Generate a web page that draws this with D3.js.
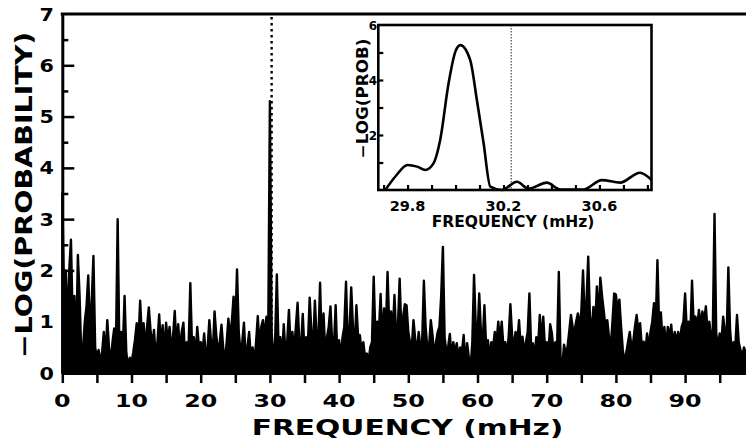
<!DOCTYPE html>
<html>
<head>
<meta charset="utf-8">
<script src="https://cdn.jsdelivr.net/npm/d3@7"></script>
<style>
  html, body { margin: 0; padding: 0; background: #fff; }
  svg { display: block; }
  text { font-family: "DejaVu Sans", sans-serif; font-weight: bold; fill: #000; }
</style>
</head>
<body>
<svg id="chart" width="746" height="443"></svg>
<script>
// Periodogram: -log(probability) sampled every 0.25 mHz, starting at 0 mHz
const freqStep = 0.25;
const logProb = [
  3.5, 1.5, 2.0, 0.9,   2.0, 2.6, 1.0, 1.5,
  0.4, 2.3, 1.5, 0.3,   0.5, 1.0, 1.3, 1.9,
  0.8, 1.4, 2.28, 0.5,  0.3, 0.45, 0.2, 0.4,
  0.8, 0.3, 1.03, 0.5,  0.2, 0.6, 0.87, 0.5,
  3.0, 0.4, 0.8, 0.5,   1.5, 0.4, 0.1, 0.3,
  0.2, 0.4, 0.64, 0.97, 0.6, 1.41, 0.7, 0.97,
  0.5, 0.9, 1.28, 0.84, 0.5, 0.84, 0.3, 0.6,
  1.14, 0.5, 0.93, 0.4, 0.98, 0.6, 0.9, 0.5,
  0.7, 1.21, 0.5, 0.95, 0.4, 0.8, 0.98, 0.3,
  0.6, 0.5, 1.75, 0.5,  0.7, 0.3, 0.9, 0.5,
  0.6, 0.4, 0.77, 0.3,  0.5, 1.03, 0.6, 0.4,
  1.2, 0.74, 0.4, 0.6,  0.94, 0.5, 0.2, 0.6,
  1.06, 0.7, 1.0, 1.49, 0.9, 2.02, 0.8, 0.4,
  0.6, 0.98, 0.3, 0.5,  0.8, 0.3, 0.5, 0.2,
  0.6, 1.11, 0.5, 0.9,  1.03, 0.7, 1.1, 0.6,
  5.3, 0.8, 0.3, 0.6,   1.92, 0.5, 0.7, 0.3,
  0.95, 0.4, 0.6, 1.23, 0.5, 0.8, 0.4, 0.9,
  1.37, 0.6, 0.5, 1.15, 0.4, 0.7, 0.6, 1.47,
  0.8, 0.5, 1.41, 0.7,  0.6, 1.76, 0.5, 1.16,
  0.4, 0.7, 0.9, 1.3,   0.6, 0.5, 1.32, 0.3,
  0.64, 0.3, 0.7, 0.9,  1.78, 0.6, 0.8, 1.67,
  0.9, 0.5, 1.32, 0.7,  0.74, 0.4, 0.6, 0.3,
  0.38, 0.2, 0.5, 0.6,  1.88, 0.7, 1.0, 0.8,
  1.54, 0.6, 1.26, 0.8, 1.97, 0.9, 1.2, 0.8,
  1.52, 0.7, 0.9, 1.84, 0.8, 1.1, 1.34, 1.32,
  0.8, 0.6, 0.5, 1.03,  0.66, 0.4, 0.8, 0.5,
  0.6, 1.8, 0.9, 0.5,   0.5, 1.03, 0.74, 0.3,
  0.6, 0.8, 0.9, 1.5,   2.46, 0.7, 0.4, 0.5,
  0.76, 0.3, 0.6, 0.4,  0.58, 0.3, 0.5, 0.4,
  0.74, 0.2, 0.58, 0.3, 0.1, 0.6, 1.91, 0.9,
  0.7, 1.55, 0.8, 0.6,  1.32, 0.5, 0.64, 0.3,
  0.6, 0.5, 0.8, 0.6,   1.0, 0.6, 1.0, 0.5,
  0.6, 0.4, 0.7, 1.34,  0.74, 0.5, 0.8, 0.6,
  1.03, 0.5, 0.71, 0.4, 0.6, 0.8, 1.55, 0.5,
  0.58, 0.3, 0.7, 0.5,  1.13, 0.6, 1.1, 0.5,
  0.6, 0.4, 0.95, 0.77, 0.4, 0.6, 0.5, 1.97,
  0.3, 0.1, 0.55, 0.4,  0.5, 0.8, 1.13, 0.9,
  0.8, 1.0, 1.16, 0.9,  1.2, 2.0, 1.0, 1.4,
  2.27, 1.1, 0.8, 1.29, 0.9, 1.69, 1.0, 1.86,
  1.5, 1.2, 0.9, 1.03,  0.7, 0.5, 1.0, 1.55,
  1.53, 1.2, 1.43, 0.9, 0.45, 0.2, 0.4, 0.6,
  0.8, 0.5, 0.6, 0.9,   1.13, 0.8, 0.97, 0.5,
  0.61, 0.4, 0.77, 0.5, 0.8, 1.0, 1.36, 0.9,
  2.2, 0.9, 1.18, 0.6,  0.9, 0.5, 0.9, 0.7,
  0.94, 0.5, 0.8, 0.6,  0.8, 0.6, 0.9, 1.0,
  1.55, 0.8, 1.0, 0.7,  1.8, 0.9, 1.1, 0.9,
  1.23, 0.9, 1.2, 1.0,  1.3, 0.8, 1.0, 0.7,
  0.8, 3.1, 0.77, 0.5,  0.77, 0.6, 1.1, 0.8,
  0.7, 2.06, 0.84, 0.4, 0.6, 0.5, 1.13, 0.6,
  0.45, 0.3, 0.5, 0.4
];

// Frequency of the detected signal (dotted marker)
const markerFreq = 30.25;

// Zoomed view around the detected peak
const insetFreq = [29.707, 29.75, 29.80, 29.84, 29.874, 29.908, 29.936, 29.971, 30.0, 30.02,
                   30.061, 30.089, 30.117, 30.145, 30.193, 30.256, 30.304, 30.381, 30.436,
                   30.533, 30.61, 30.686, 30.769, 30.818];
const insetLogP = [0.0, 0.5, 0.91, 0.85, 0.73, 0.97, 1.82, 3.88, 5.05, 5.27,
                   4.73, 3.27, 1.7, 0.12, 0.0, 0.3, 0.05, 0.27, 0.02,
                   0.02, 0.36, 0.27, 0.63, 0.36];
const insetMarkerFreq = 30.232;

// Axis ticks and labels
const xTicks = d3.range(0, 99, 5);
const xTickLabels = [0, 10, 20, 30, 40, 50, 60, 70, 80, 90];
const yMajorTicks = [1, 2, 3, 4, 5, 6];
const yMinorTicks = [0.5, 1.5, 2.5, 3.5, 4.5, 5.5, 6.5];
const yTickLabels = [0, 1, 2, 3, 4, 5, 6, 7];
const insetXTicks = [29.7, 29.8, 29.9, 30.0, 30.1, 30.2, 30.3, 30.4, 30.5, 30.6, 30.7, 30.8];
const insetXTickLabels = ["29.8", "30.2", "30.6"];
const insetYTicks = [1, 2, 3, 4, 5];
const insetYTickLabels = [2, 4, 6];

const svg = d3.select("#chart");

// ---------- main panel ----------
const x = d3.scaleLinear().domain([0, 98.8]).range([62.3, 746]);
const y = d3.scaleLinear().domain([0, 7]).range([373, 14]);

const spectrum = logProb.map((v, i) => [i * freqStep, v]);

// dotted marker at the signal frequency
svg.append("line")
  .attr("x1", x(markerFreq)).attr("x2", x(markerFreq))
  .attr("y1", y(7) + 3).attr("y2", y(0))
  .attr("stroke", "#000").attr("stroke-width", 2.4)
  .attr("stroke-dasharray", "2.6 3.4");

// densely sampled spectrum drawn as a solid black mass with spiky top
svg.append("path")
  .datum(spectrum)
  .attr("fill", "#000")
  .attr("stroke", "#000")
  .attr("stroke-width", 2.4)
  .attr("stroke-linejoin", "round")
  .attr("d", d3.area().x(d => x(d[0])).y0(y(0)).y1(d => y(d[1])));

// bottom axis: ticks every 5 mHz pointing outward
const xAxis = svg.append("g")
  .attr("transform", `translate(0,${y(0)})`)
  .call(d3.axisBottom(x).tickValues(xTicks).tickSize(10).tickSizeOuter(0).tickFormat(""));
xAxis.select(".domain").attr("stroke-width", 3);
xAxis.selectAll(".tick line").attr("stroke-width", 2.5);

// left axis: inward ticks, long at integers, short at halves
const yAxis = svg.append("g")
  .attr("transform", `translate(${x(0)},0)`)
  .call(d3.axisLeft(y).tickValues(yMajorTicks).tickSize(-12).tickSizeOuter(0).tickFormat(""));
yAxis.select(".domain").attr("stroke-width", 3);
yAxis.selectAll(".tick line").attr("stroke-width", 2.5);
const yMinor = svg.append("g")
  .attr("transform", `translate(${x(0)},0)`)
  .call(d3.axisLeft(y).tickValues(yMinorTicks).tickSize(-6).tickSizeOuter(0).tickFormat(""));
yMinor.select(".domain").remove();
yMinor.selectAll(".tick line").attr("stroke-width", 2.5);

// top frame line
svg.append("line")
  .attr("x1", x(0) - 1.5).attr("x2", x.range()[1])
  .attr("y1", y(7)).attr("y2", y(7))
  .attr("stroke", "#000").attr("stroke-width", 3);

// tick labels
svg.append("g").selectAll("g")
  .data(xTickLabels).join("g")
  .attr("transform", d => `translate(${x(d)},407)`)
  .append("text")
  .attr("text-anchor", "middle")
  .attr("font-size", 18)
  .attr("transform", "scale(1.32,1)")
  .text(d => d);

svg.append("g").selectAll("g")
  .data(yTickLabels).join("g")
  .attr("transform", d => `translate(54,${y(d) + 6.5})`)
  .append("text")
  .attr("text-anchor", "end")
  .attr("font-size", 18)
  .attr("transform", "scale(1.15,1)")
  .text(d => d);

// axis titles
svg.append("text")
  .attr("transform", "translate(407.5,435) scale(1.35,1)")
  .attr("text-anchor", "middle")
  .attr("font-size", 22)
  .text("FREQUENCY (mHz)");

svg.append("text")
  .attr("transform", "translate(31.5,195) rotate(-90) scale(1.24,1)")
  .attr("text-anchor", "middle")
  .attr("font-size", 23)
  .text("\u2212LOG(PROBABILITY)");

// ---------- inset panel ----------
const ix = d3.scaleLinear().domain([29.678, 30.817]).range([378.3, 651.5]);
const iy = d3.scaleLinear().domain([0, 6]).range([190, 25]);

svg.append("rect")
  .attr("x", ix.range()[0]).attr("y", iy(6))
  .attr("width", ix.range()[1] - ix.range()[0]).attr("height", iy(0) - iy(6))
  .attr("fill", "#fff");

svg.append("line")
  .attr("x1", ix(insetMarkerFreq)).attr("x2", ix(insetMarkerFreq))
  .attr("y1", iy(6)).attr("y2", iy(0))
  .attr("stroke", "#222").attr("stroke-width", 1)
  .attr("stroke-dasharray", "1.5 1.5");

svg.append("path")
  .datum(d3.zip(insetFreq, insetLogP))
  .attr("fill", "none")
  .attr("stroke", "#000")
  .attr("stroke-width", 2.6)
  .attr("stroke-linejoin", "round")
  .attr("d", d3.line().curve(d3.curveMonotoneX).x(d => ix(d[0])).y(d => iy(d[1])));

const ixAxis = svg.append("g")
  .attr("transform", `translate(0,${iy(0)})`)
  .call(d3.axisBottom(ix).tickValues(insetXTicks).tickSize(-5).tickSizeOuter(0).tickFormat(""));
ixAxis.select(".domain").remove();
ixAxis.selectAll(".tick line").attr("stroke-width", 2.2);

const iyAxis = svg.append("g")
  .attr("transform", `translate(${ix.range()[0]},0)`)
  .call(d3.axisLeft(iy).tickValues(insetYTicks).tickSize(-5).tickSizeOuter(0).tickFormat(""));
iyAxis.select(".domain").remove();
iyAxis.selectAll(".tick line").attr("stroke-width", 2.2);

svg.append("rect")
  .attr("x", ix.range()[0]).attr("y", iy(6))
  .attr("width", ix.range()[1] - ix.range()[0]).attr("height", iy(0) - iy(6))
  .attr("fill", "none").attr("stroke", "#000").attr("stroke-width", 2.6);

svg.append("g").selectAll("text")
  .data(insetXTickLabels).join("text")
  .attr("x", d => ix(+d))
  .attr("y", 211)
  .attr("text-anchor", "middle")
  .attr("font-size", 14.5)
  .text(d => d);

svg.append("g").selectAll("text")
  .data(insetYTickLabels).join("text")
  .attr("x", 377)
  .attr("y", d => iy(d) + 4.5)
  .attr("text-anchor", "end")
  .attr("font-size", 12)
  .text(d => d);

svg.append("text")
  .attr("x", 513).attr("y", 227)
  .attr("text-anchor", "middle")
  .attr("font-size", 15.5)
  .text("FREQUENCY (mHz)");

svg.append("text")
  .attr("transform", "translate(368,98.5) rotate(-90) scale(1.12,1)")
  .attr("text-anchor", "middle")
  .attr("font-size", 15)
  .text("\u2212LOG(PROB)");
</script>
</body>
</html>
